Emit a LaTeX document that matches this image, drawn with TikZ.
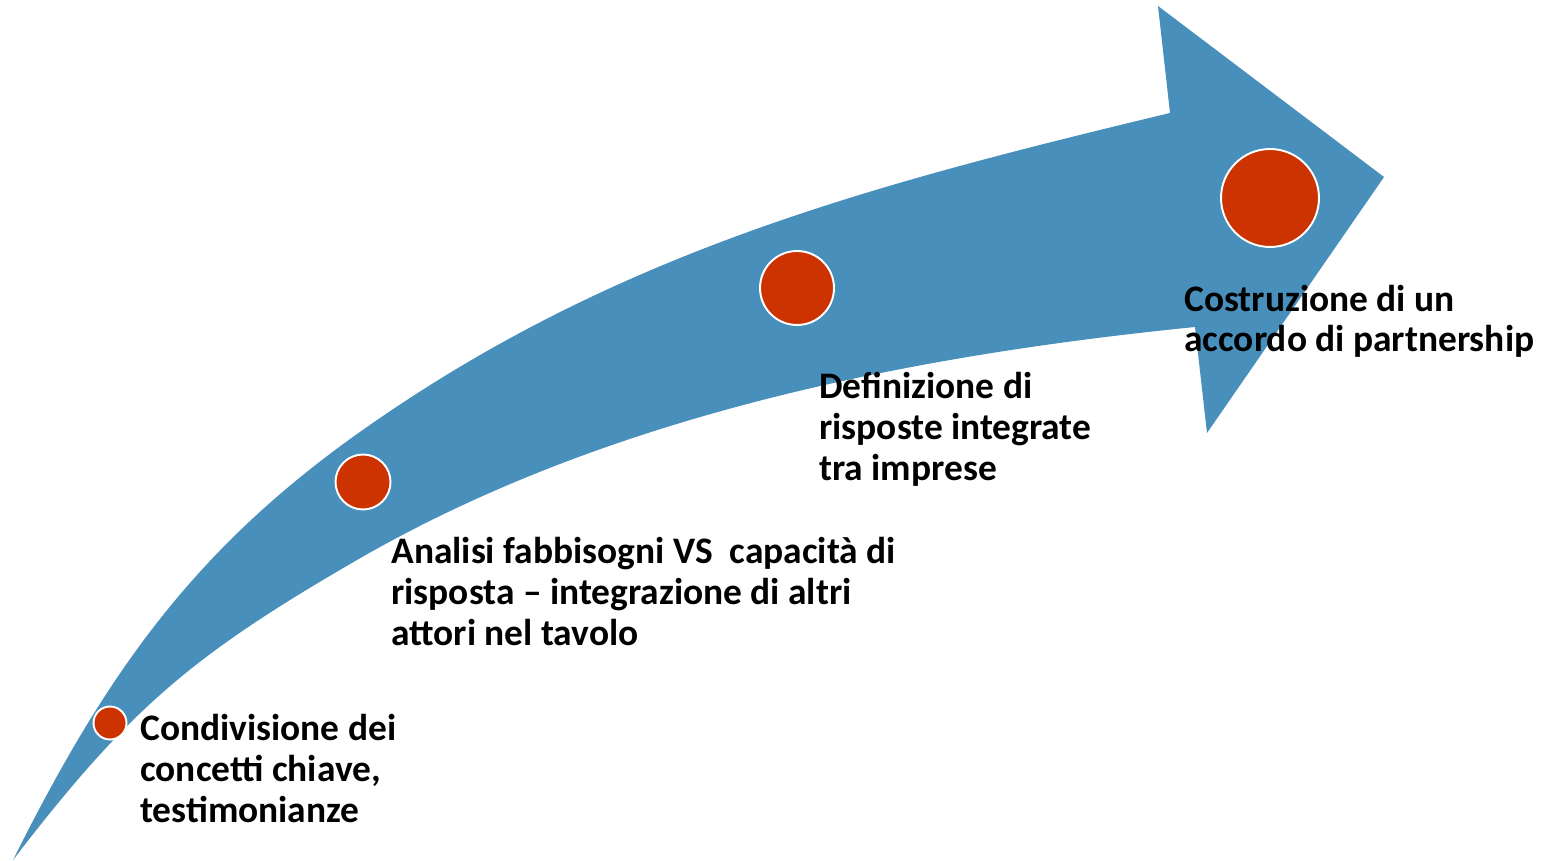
\documentclass[tikz,border=0pt]{standalone}
\usepackage{fontspec}
\setmainfont{Carlito}

\definecolor{arrowblue}{RGB}{72,143,188}
\definecolor{dotred}{RGB}{204,51,0}

\begin{document}
\begin{tikzpicture}[x=0.02cm, y=-0.02cm,
    stagedot/.style={circle, fill=dotred, draw=white, line width=1.1pt, inner sep=0pt},
    stagetext/.style={anchor=base west, align=left, inner sep=0pt,
        font=\fontsize{21.3pt}{23.3pt}\selectfont\bfseries}]
    \useasboundingbox (0,0) rectangle (1552,861);

    % Curved arrow
    \fill[arrowblue] (13,860)
        .. controls (107,672) and (195,547) .. (367,427) % upper edge
        .. controls (617,252) and (870,185) .. (1170,113)
        -- (1158,6) -- (1384,177) -- (1207,433) -- (1195,327) % arrow head
        .. controls (906,356) and (606,416) .. (357,560) % lower edge
        .. controls (191,656) and (129,709) .. (13,860)
        -- cycle;

    % Stages along the arrow
    \node[stagedot, minimum size=0.66cm] (dot1) at (110,723) {};
    \node[stagedot, minimum size=1.10cm] (dot2) at (363,482) {};
    \node[stagedot, minimum size=1.48cm] (dot3) at (797,288) {};
    \node[stagedot, minimum size=1.96cm] (dot4) at (1270,198) {};

    % Texts (anchored at the baseline of the last line)
    \node[stagetext] (txt1) at (140,822) {Condivisione dei\\concetti chiave,\\testimonianze};
    \node[stagetext] (txt2) at (391,645) {Analisi fabbisogni VS~ capacità di\\risposta – integrazione di altri\\attori nel tavolo};
    \node[stagetext] (txt3) at (819,480) {Definizione di\\risposte integrate\\tra imprese};
    \node[stagetext] (txt4) at (1184,352) {Costruzione di un\\accordo di partnership};
\end{tikzpicture}
\end{document}
